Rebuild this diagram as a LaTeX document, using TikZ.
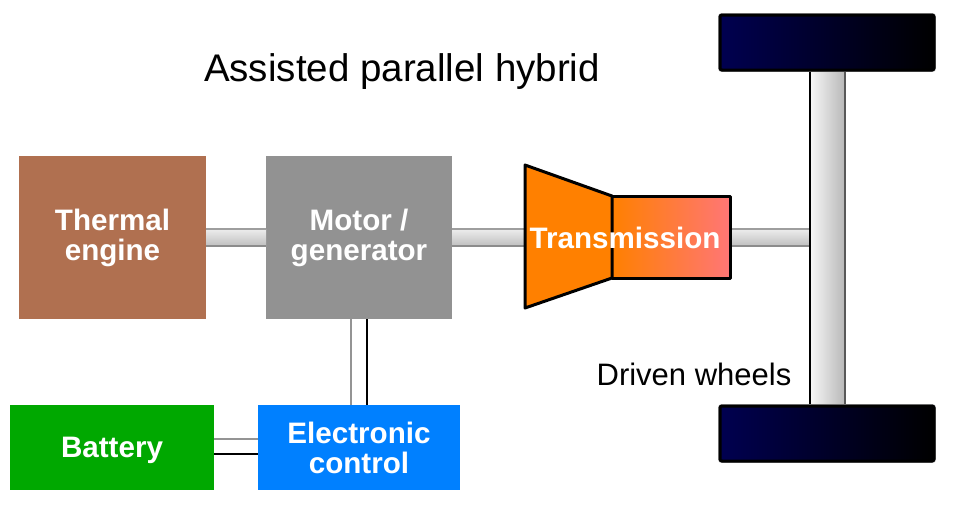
\documentclass[tikz,border=0pt]{standalone}
\usepackage{fontspec}
\setmainfont{Liberation Sans}
\definecolor{engbrown}{RGB}{176,112,80}
\definecolor{motgray}{RGB}{146,146,146}
\definecolor{batgreen}{RGB}{0,168,0}
\definecolor{ecblue}{RGB}{0,128,255}
\definecolor{tranorange}{RGB}{255,128,0}
\definecolor{tranpink}{RGB}{255,118,118}
\definecolor{wheelblue}{RGB}{0,0,80}
\begin{document}
\begin{tikzpicture}[x=1pt,y=-1pt,
  box/.style={inner sep=0pt, text=white, align=center,
    font=\bfseries\fontsize{29.6}{30}\selectfont},
  shaftfill/.style={top color=white!93!black, bottom color=white!75!black},
  shaftedge/.style={line width=1.8pt, draw=white!62!black},
  wire/.style={line width=1.4pt},
  wheel/.style={rounded corners=2pt, line width=3pt, draw=black,
    left color=wheelblue, right color=black},
  lbl/.style={font=\fontsize{31}{35}\selectfont, inner sep=0pt}]
\useasboundingbox (0,0) rectangle (953,512);

% title
\node[lbl, font=\fontsize{38.5}{44}\selectfont] (title) at (402,72) {Assisted parallel hybrid};

% boxes
\node[box, fill=engbrown, minimum width=187pt, minimum height=163pt] (eng) at (112.5,237.5) {Thermal\\engine};
\node[box, fill=motgray, minimum width=186pt, minimum height=163pt] (mot) at (359,237.5) {Motor /\\generator};
\node[box, fill=batgreen, minimum width=204pt, minimum height=85pt] (bat) at (112,447.5) {\raisebox{-9.5pt}[0pt][0pt]{Battery}};
\node[box, fill=ecblue, minimum width=202pt, minimum height=85pt] (ec) at (359,447.5) {Electronic\\control};

% transmission shape
\coordinate (tA) at (525,165);
\coordinate (tB) at (612,196);
\coordinate (tC) at (612,278);
\coordinate (tD) at (525,308);
\coordinate (tE) at (730,196);
\coordinate (tF) at (730,278);

% shafts
\coordinate (s1a) at (206,229); \coordinate (s1b) at (266,246);
\coordinate (s2a) at (452,229); \coordinate (s2b) at (525,246);
\coordinate (s3a) at (730,229); \coordinate (s3b) at (811,246);
\foreach \a/\b in {s1a/s1b, s2a/s2b, s3a/s3b}{
  \fill[shaftfill] (\a) rectangle (\b);
  \draw[shaftedge] (\a) -- (\a -| \b);
  \draw[shaftedge, draw=white!55!black] (\a |- \b) -- (\b);
}

% axle
\coordinate (axA) at (810,68);
\coordinate (axB) at (845,408);
\fill[left color=white!97!black, right color=white!72!black] (axA) rectangle (axB);
\draw[line width=1.2pt] (axA) -- (axA |- axB);
\draw[line width=1.2pt, draw=white!35!black] (axA -| axB) -- (axB);

% wheels
\draw[rounded corners=3pt, line width=0.8pt, draw=white!65!black] (718.5,13.5) rectangle (935.5,71.5);
\draw[wheel] (720,15) rectangle (934,70);
\draw[rounded corners=3pt, line width=0.8pt, draw=white!65!black] (718.5,404.5) rectangle (935.5,462.5);
\draw[wheel] (720,406) rectangle (934,461);

% transmission
\fill[left color=tranorange, right color=tranpink] (tB) rectangle (tF);
\fill[tranorange] (tA) -- (tB) -- (tC) -- (tD) -- cycle;
\draw[line width=3pt, line join=round] (tA) -- (tB) -- (tC) -- (tD) -- cycle;
\draw[line width=3pt, line join=round] (tB) -- (tE) -- (tF) -- (tC);
\node[box] (tr) at (625,238) {Transmission};

% electrical wires
\draw[wire, draw=white!58!black] ([xshift=-8pt]mot.south) -- ([xshift=-8pt]mot.south |- ec.north);
\draw[wire] ([xshift=8pt]mot.south) -- ([xshift=8pt]mot.south |- ec.north);
\draw[wire, draw=white!58!black] ([yshift=8.5pt]bat.east) -- ([yshift=8.5pt]bat.east -| ec.west);
\draw[wire] ([yshift=-6.5pt]bat.east) -- ([yshift=-6.5pt]bat.east -| ec.west);

% label
\node[lbl] (dw) at (694,374) {Driven wheels};
\end{tikzpicture}
\end{document}
